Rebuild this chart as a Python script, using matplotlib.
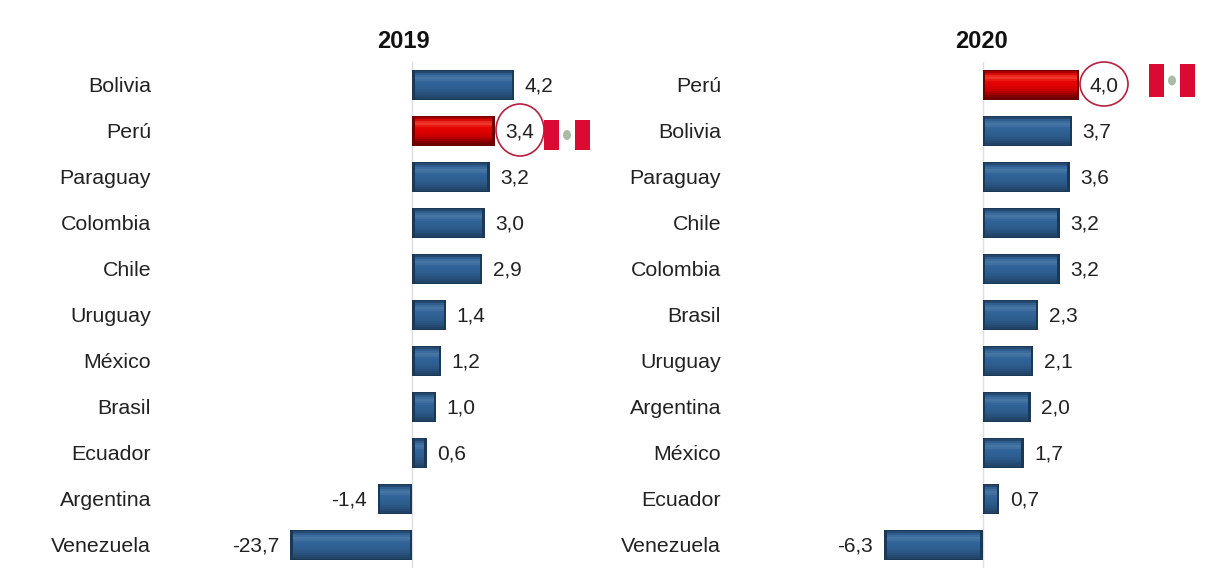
import numpy as np
import matplotlib
matplotlib.use("Agg")
import matplotlib.pyplot as plt
from matplotlib.patches import Ellipse, Rectangle

W, H = 1221, 579
plt.rcParams["font.family"] = ["Liberation Sans", "DejaVu Sans"]

countries_2019 = ["Bolivia", "Perú", "Paraguay", "Colombia", "Chile", "Uruguay",
                  "México", "Brasil", "Ecuador", "Argentina", "Venezuela"]
values_2019 = [4.2, 3.4, 3.2, 3.0, 2.9, 1.4, 1.2, 1.0, 0.6, -1.4, -23.7]
countries_2020 = ["Perú", "Bolivia", "Paraguay", "Chile", "Colombia", "Brasil",
                  "Uruguay", "Argentina", "México", "Ecuador", "Venezuela"]
values_2020 = [4.0, 3.7, 3.6, 3.2, 3.2, 2.3, 2.1, 2.0, 1.7, 0.7, -6.3]
highlight = "Perú"

BLUE_RAMP = ["#25486f", "#2f5f90", "#3c6c9c", "#4676a6", "#3f6f9f", "#33659a", "#2f6296",
             "#2e6093", "#2d5e90", "#2c5b8b", "#2a5684", "#27507b", "#244a71", "#214366"]
RED_RAMP = ["#a80000", "#d80a08", "#ea2a20", "#f0362a", "#ea1a12", "#e40404", "#e20000",
            "#dc0000", "#d40000", "#c80000", "#b40000", "#9c0000", "#840000", "#700000"]
EDGE = {"blue": "#1c3857", "red": "#6e0000"}


def broken_scale(knee, squeeze):
    """Linear axis whose far negative tail is compressed past the knee."""
    def forward(x):
        x = np.asarray(x, dtype=float)
        return np.where(x < knee, knee + (x - knee) * squeeze, x)

    def inverse(u):
        u = np.asarray(u, dtype=float)
        return np.where(u < knee, knee + (u - knee) / squeeze, u)
    return forward, inverse


def glossy_bar(ax, y, value, height, forward, inverse, px_per_unit, kind):
    """One bar with a dark rim and a banded vertical sheen."""
    ramp = RED_RAMP if kind == "red" else BLUE_RAMP
    ax.barh(y, value, height=height, color=EDGE[kind], linewidth=0, zorder=2)
    sign = 1 if value > 0 else -1
    inset = 2.5 / px_per_unit
    start = float(inverse(sign * inset))
    stop = float(inverse(forward(value) - sign * inset))
    inner = height * 0.92
    band = inner / len(ramp)
    for i, colour in enumerate(ramp):
        ax.barh(y - inner / 2 + band * (i + 0.5), stop - start, left=start, height=band * 1.05,
                color=colour, linewidth=0, zorder=3)


def panel(left_px, right_px, zero_px, px_per_unit, knee, squeeze, names, values, year, title_x):
    ax = fig.add_axes([left_px / W, 1 - 568 / H, (right_px - left_px) / W, (568 - 62) / H])
    forward, inverse = broken_scale(knee, squeeze)
    ax.set_xscale("function", functions=(forward, inverse))
    ax.set_xlim(float(inverse((left_px - zero_px) / px_per_unit)),
                float(inverse((right_px - zero_px) / px_per_unit)))
    rows = np.arange(len(names))
    ax.set_ylim(len(names) - 0.5, -0.5)
    for row, name, value in zip(rows, names, values):
        kind = "red" if name == highlight else "blue"
        glossy_bar(ax, row, value, 0.64, forward, inverse, px_per_unit, kind)
        ax.annotate(f"{value:.1f}".replace(".", ","), (value, row),
                    xytext=(7.5 if value > 0 else -8, -0.5), textcoords="offset points",
                    ha="left" if value > 0 else "right", va="center",
                    fontsize=15, color="#222222", zorder=5)
    ax.axvline(0, color="#dcdee1", lw=1, zorder=1)
    ax.set_yticks(rows, names)
    ax.tick_params(axis="y", length=0, pad=5, labelsize=15.4, labelcolor="#222222")
    ax.set_xticks([])
    ax.minorticks_off()
    for spine in ax.spines.values():
        spine.set_visible(False)
    ax.patch.set_alpha(0)
    fig.text(title_x / W, 1 - 41 / H, year, ha="center", va="center",
             fontsize=17, fontweight="bold", color="#111111")


def flag(ax, x0, x1, y0, y1):
    third = (x1 - x0) / 3
    ax.add_patch(Rectangle((x0, y0), third, y1 - y0, color="#db0a33", lw=0))
    ax.add_patch(Rectangle((x1 - third, y0), third, y1 - y0, color="#db0a33", lw=0))
    ax.add_patch(Ellipse(((x0 + x1) / 2, (y0 + y1) / 2), 8, 10, color="#a9bda6", lw=0))


fig = plt.figure(figsize=(W / 100, H / 100), dpi=100, facecolor="white")
panel(158, 600, 412, 24.3, -3.0, 0.0976, countries_2019, values_2019, "2019", 403)
panel(728, 1210, 982.5, 24.2, -2.0, 0.48, countries_2020, values_2020, "2020", 981)

# Pixel-space overlay for the callout rings and flags
overlay = fig.add_axes([0, 0, 1, 1])
overlay.set_xlim(0, W)
overlay.set_ylim(H, 0)
overlay.axis("off")
overlay.patch.set_alpha(0)
for centre, rx, ry in [((520, 130), 24, 26), ((1104, 84), 24, 22)]:
    overlay.add_patch(Ellipse(centre, 2 * rx, 2 * ry, fill=False, ec="#b5203f", lw=1.2))
flag(overlay, 544, 590, 120, 150)
flag(overlay, 1149, 1195, 64, 97)

fig.savefig("out.png", dpi=100, facecolor="white")
